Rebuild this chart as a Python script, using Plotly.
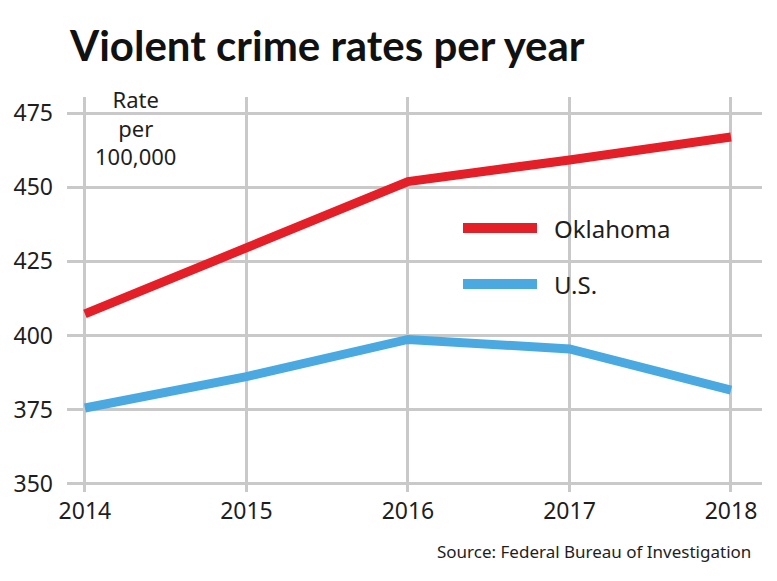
import plotly.graph_objects as go

years = [2014, 2015, 2016, 2017, 2018]
oklahoma = [407.3, 429.6, 451.9, 459.2, 466.9]
us = [375.6, 386.2, 398.7, 395.5, 381.6]
y_ticks = [350, 375, 400, 425, 450, 475]

RED = "#e41f27"
BLUE = "#4aa9e0"
GRID = "#c9c9c9"
TXT = "#1e1e1e"
FONT = "Noto Sans"
TITLE_FONT = "Lato"

W, H = 777, 581
L, R, T, B = 67, 15, 97, 89
pw, ph = W - L - R, H - T - B

def px(x):
    return (x - L) / pw

def py(y):
    return 1 - (y - T) / ph

fig = go.Figure()
fig.add_trace(go.Scatter(x=years, y=oklahoma, mode="lines", name="Oklahoma",
                         line=dict(color=RED, width=9), showlegend=False))
fig.add_trace(go.Scatter(x=years, y=us, mode="lines", name="U.S.",
                         line=dict(color=BLUE, width=9), showlegend=False))

fig.update_layout(
    width=W, height=H,
    margin=dict(l=L, r=R, t=T, b=B, autoexpand=False),
    paper_bgcolor="white", plot_bgcolor="white",
    font=dict(family=FONT, color=TXT, size=23),
    xaxis=dict(range=[2013.889, 2018.192], tickvals=years, ticktext=[str(y) for y in years],
               showgrid=True, gridcolor=GRID, gridwidth=3, zeroline=False, automargin=False,
               showline=False, ticks="", ticklabelstandoff=3,
               tickfont=dict(family=FONT, size=23, color=TXT)),
    yaxis=dict(range=[347.3, 480.4], tickvals=y_ticks, ticktext=[str(v) for v in y_ticks],
               showgrid=True, gridcolor=GRID, gridwidth=3, zeroline=False, automargin=False,
               showline=False, ticks="", ticklabelstandoff=13,
               tickfont=dict(family=FONT, size=23, color=TXT)),
)

anns = [
    dict(text="<b>Violent crime rates per year</b>", x=px(67), y=py(45), xanchor="left", yanchor="middle",
         font=dict(family=TITLE_FONT, size=42, color="#111", weight=900)),
    dict(text="Rate<br>per<br>100,000", x=px(135), y=py(128), xanchor="center", yanchor="middle",
         font=dict(family=FONT, size=22, color=TXT)),
    dict(text="Oklahoma", x=px(552), y=py(228), xanchor="left", yanchor="middle",
         font=dict(family=FONT, size=24, color=TXT)),
    dict(text="U.S.", x=px(552), y=py(284), xanchor="left", yanchor="middle",
         font=dict(family=FONT, size=24, color=TXT)),
    dict(text="Source: Federal Bureau of Investigation", x=px(753), y=py(551), xanchor="right", yanchor="middle",
         font=dict(family=FONT, size=17, color=TXT)),
]
for a in anns:
    fig.add_annotation(xref="paper", yref="paper", showarrow=False, **a)

for y, c in [(228, RED), (284, BLUE)]:
    fig.add_shape(type="line", xref="paper", yref="paper", x0=px(463), x1=px(537), y0=py(y), y1=py(y),
                  line=dict(color=c, width=10))

fig.write_html("out.html", config={"displayModeBar": False},
               post_script="document.body.style.margin='0';")
